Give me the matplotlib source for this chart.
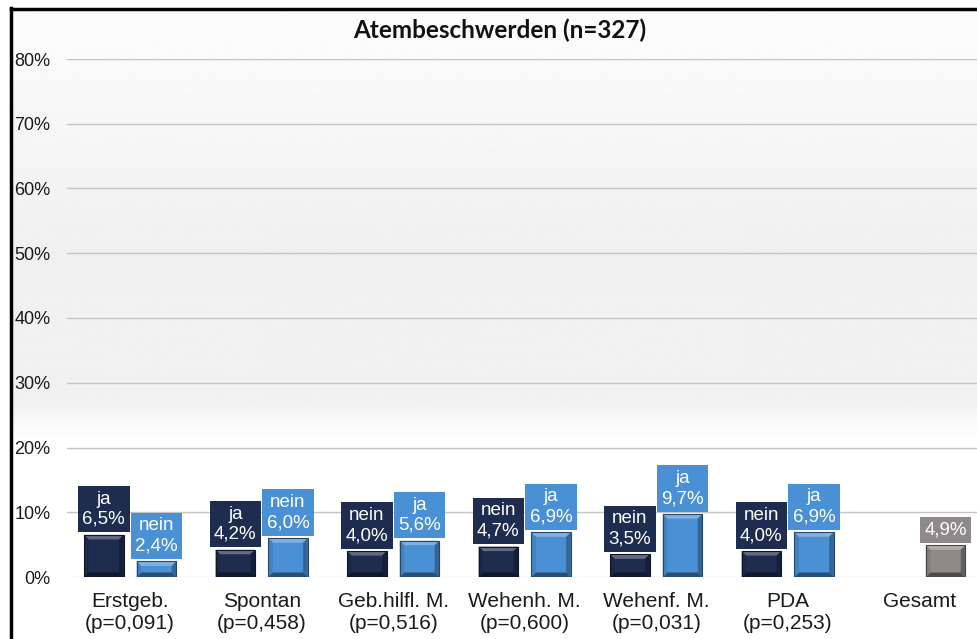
import numpy as np
import matplotlib.pyplot as plt
from matplotlib.patches import Polygon
from matplotlib.lines import Line2D
from matplotlib.colors import to_rgb

plt.rcParams['font.family'] = ['Liberation Sans', 'DejaVu Sans']

# Daten
categories = ['Erstgeb.', 'Spontan', 'Geb.hilfl. M.', 'Wehenh. M.', 'Wehenf. M.', 'PDA', 'Gesamt']
p_values = ['0,091', '0,458', '0,516', '0,600', '0,031', '0,253', None]
left_labels = ['ja', 'ja', 'nein', 'nein', 'nein', 'nein']
left_values = [6.5, 4.2, 4.0, 4.7, 3.5, 4.0]
right_labels = ['nein', 'nein', 'ja', 'ja', 'ja', 'ja']
right_values = [2.4, 6.0, 5.6, 6.9, 9.7, 6.9]
total_value = 4.9

c_dark = '#1e2c4f'
c_light = '#4a90d4'
c_grey = '#8e8a89'

W, H = 978, 639
fig = plt.figure(figsize=(W / 100, H / 100), dpi=100)
fig.patch.set_facecolor('white')

# Hintergrund mit Verlauf
bg = fig.add_axes([11 / W, 0, 1 - 11 / W, 1 - 9 / H], zorder=-5)
ys = np.linspace(9, H, 400)
stops_y = [9, 250, 400, 440, H]
stops_v = [0.99, 0.94, 0.945, 1.0, 1.0]
grad = np.interp(ys, stops_y, stops_v)
bg.imshow(np.repeat(grad[:, None], 2, axis=1), cmap='gray', vmin=0, vmax=1,
          aspect='auto', extent=[0, 1, 0, 1])
bg.axis('off')

# Rahmen
fig.add_artist(Line2D([10.5 / W, 10.5 / W], [0, 1 - 8 / H], transform=fig.transFigure,
                      color='black', lw=2.5))
fig.add_artist(Line2D([10.5 / W, 1], [1 - 8.5 / H, 1 - 8.5 / H], transform=fig.transFigure,
                      color='black', lw=2.5))

ax = fig.add_axes([67 / W, (H - 577) / H, (985 - 67) / W, (577 - 59) / H])
ax.set_facecolor('none')
ax.set_xlim(-0.48, 6.5)
ax.set_ylim(0, 80)
for s in ax.spines.values():
    s.set_visible(False)

ax.set_yticks(range(0, 81, 10))
ax.set_yticklabels([f'{v}%' for v in range(0, 81, 10)], fontsize=13, color='#1a1a1a')
ax.tick_params(axis='y', length=0, pad=12)
for v in range(10, 81, 10):
    ax.axhline(v, color='#c4c4c4', lw=1, zorder=0)
ax.axhline(0, color='#e6e6e6', lw=1, zorder=0)

xlabels = [c if p is None else f'{c}\n(p={p})' for c, p in zip(categories, p_values)]
ax.set_xticks(range(len(categories)))
ax.set_xticklabels(xlabels, fontsize=15, color='#1a1a1a', linespacing=1.2)
ax.tick_params(axis='x', length=0, pad=11)

x = np.arange(len(left_values))
off = 0.2
bw = 0.3


def mix(c, t, amount):
    c = np.array(to_rgb(c))
    return tuple(c + (np.array(t) - c) * amount)


def bevel(patch, color):
    x0, y0 = patch.get_x(), patch.get_y()
    w, h = patch.get_width(), patch.get_height()
    p0 = ax.transData.transform((0, 0))
    p1 = ax.transData.transform((1, 1))
    dx = 4.5 / (p1[0] - p0[0])
    dy = 4.5 / (p1[1] - p0[1])
    x1, y1 = x0 + w, y0 + h
    top = [(x0, y1), (x1, y1), (x1 - dx, y1 - dy), (x0 + dx, y1 - dy)]
    bot = [(x0, y0), (x1, y0), (x1 - dx, y0 + dy), (x0 + dx, y0 + dy)]
    lft = [(x0, y0), (x0, y1), (x0 + dx, y1 - dy), (x0 + dx, y0 + dy)]
    rgt = [(x1, y0), (x1, y1), (x1 - dx, y1 - dy), (x1 - dx, y0 + dy)]
    shades = [(top, mix(color, (1, 1, 1), 0.3)), (bot, mix(color, (0, 0, 0), 0.45)),
              (lft, mix(color, (0, 0, 0), 0.1)), (rgt, mix(color, (0, 0, 0), 0.3))]
    for pts, col in shades:
        ax.add_patch(Polygon(pts, closed=True, fc=col, ec='none', zorder=3))
    ax.add_patch(Polygon([(x0, y0), (x0, y1), (x1, y1), (x1, y0)], closed=True,
                         fc='none', ec=mix(color, (0, 0, 0), 0.5), lw=0.8, zorder=4))


def label(xp, val, text, color):
    s = f'{val:.1f}%'.replace('.', ',')
    if text:
        s = f'{text}\n{s}'
    ax.annotate(s, xy=(xp, val), xytext=(0, 5), textcoords='offset points',
                ha='center', va='bottom', color='white', fontsize=13.5, linespacing=1.25,
                bbox=dict(boxstyle='square,pad=0.24', fc=color, ec='none'), zorder=5)


bars_l = ax.bar(x - off, left_values, bw, color=c_dark, zorder=2)
bars_r = ax.bar(x + off, right_values, bw, color=c_light, zorder=2)
bars_t = ax.bar([len(left_values) + off], [total_value], bw, color=c_grey, zorder=2)

for b in bars_l:
    bevel(b, c_dark)
for b in bars_r:
    bevel(b, c_light)
for b in bars_t:
    bevel(b, c_grey)

for xp, v, t in zip(x - off, left_values, left_labels):
    label(xp, v, t, c_dark)
for xp, v, t in zip(x + off, right_values, right_labels):
    label(xp, v, t, c_light)
label(len(left_values) + off, total_value, None, c_grey)

fig.text(500 / W, 1 - 30 / H, 'Atembeschwerden (n=327)', ha='center', va='center',
         fontsize=17.5, fontweight='bold', family=['Lato', 'DejaVu Sans'], color='#111111')

fig.savefig('out.png', dpi=100)
